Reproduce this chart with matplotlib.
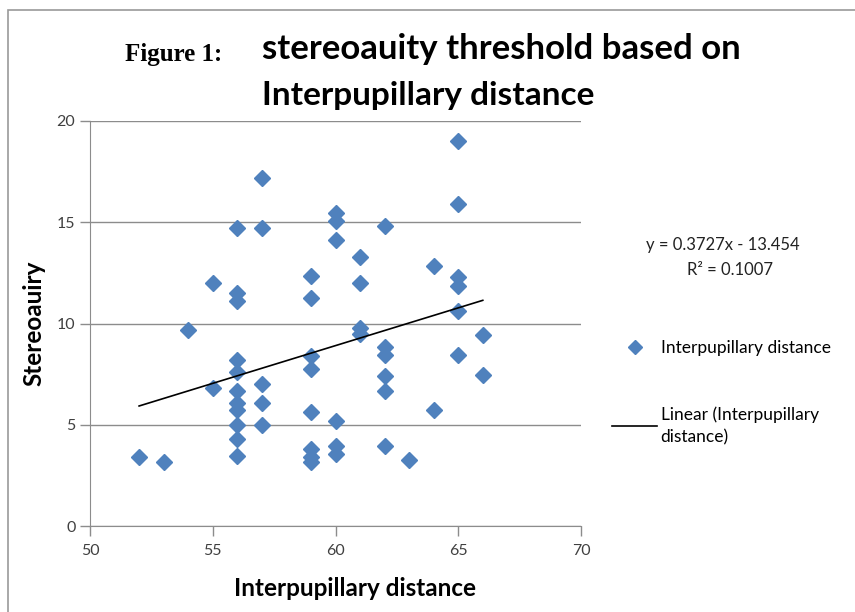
import numpy as np
import matplotlib.pyplot as plt
from matplotlib.patches import Rectangle

# Interpupillary distance (mm) and stereoacuity threshold
ipd = [52, 53, 54, 55, 55,
       56, 56, 56, 56, 56, 56, 56, 56, 56, 56, 56,
       57, 57, 57, 57, 57,
       59, 59, 59, 59, 59, 59, 59, 59,
       60, 60, 60, 60, 60, 60,
       61, 61, 61, 61,
       62, 62, 62, 62, 62, 62,
       63, 64, 64,
       65, 65, 65, 65, 65, 65,
       66, 66]
stereo = [3.4, 3.15, 9.7, 12.0, 6.8,
          14.7, 11.5, 11.1, 8.2, 7.6, 6.65, 6.05, 5.75, 5.0, 4.3, 3.45,
          17.2, 14.7, 7.0, 6.05, 4.97,
          12.35, 11.25, 8.4, 7.75, 5.65, 3.8, 3.4, 3.15,
          15.45, 15.05, 14.1, 5.2, 3.95, 3.55,
          13.3, 12.0, 9.8, 9.5,
          14.8, 8.85, 8.45, 7.42, 6.65, 3.95,
          3.25, 12.85, 5.75,
          19.0, 15.9, 12.3, 11.85, 10.6, 8.42,
          9.45, 7.48]

slope = 0.3727
intercept = -13.454
r2 = 0.1007

xTicks = [50, 55, 60, 65, 70]
yTicks = [0, 5, 10, 15, 20]

plt.rcParams['font.family'] = ['Lato', 'DejaVu Sans']

fig = plt.figure(figsize=(8.55, 6.12), dpi=100)
ax = fig.add_axes([90/855, 1 - 526/612, 491/855, 405/612])

blue = '#4F81BD'
pts, = ax.plot(ipd, stereo, linestyle='none', marker='D', ms=8.5,
               color=blue, markeredgecolor=blue)

xs = np.array([min(ipd), max(ipd)])
trend, = ax.plot(xs, slope * xs + intercept, color='black', lw=1.2)

ax.set_xlim(50, 70)
ax.set_ylim(0, 20)
ax.set_xticks(xTicks)
ax.set_yticks(yTicks)
ax.grid(axis='y', color='#8c8c8c', lw=1)
ax.set_axisbelow(True)
for side in ['top', 'right']:
    ax.spines[side].set_visible(False)
for side in ['left', 'bottom']:
    ax.spines[side].set_color('#8c8c8c')
ax.tick_params(colors='#8c8c8c', labelcolor='#404040', labelsize=11.5, length=7, width=1)
ax.tick_params(axis='x', pad=6)

ax.set_xlabel('Interpupillary distance', fontsize=17.5, fontweight='bold')
ax.xaxis.set_label_coords(0.54, -0.125)
ax.set_ylabel('Stereoauiry', fontsize=17.5, fontweight='bold', labelpad=8)

# title block
fig.text(125/855, 1 - 55/612, 'Figure 1:', family='Liberation Serif', fontweight='bold',
         fontsize=18, va='center', ha='left')
fig.text(262/855, 1 - 49/612, 'stereoauity threshold based on', fontweight='bold',
         fontsize=25, va='center', ha='left')
fig.text(262/855, 1 - 95/612, 'Interpupillary distance', fontweight='bold',
         fontsize=24, va='center', ha='left')

# trendline equation
fig.text(723/855, 1 - 245/612, 'y = %.4fx - %.3f' % (slope, -intercept),
         fontsize=12, ha='center', va='center', color='#222222')
fig.text(730/855, 1 - 270/612, 'R² = %.4f' % r2,
         fontsize=12, ha='center', va='center', color='#222222')

leg = fig.legend([pts, trend], ['Interpupillary distance', 'Linear (Interpupillary\ndistance)'],
                 loc='upper left', bbox_to_anchor=(612/855, 1 - 340/612), frameon=False,
                 fontsize=12.5, handlelength=2.6, labelspacing=2.9, markerscale=0.8,
                 handletextpad=0.2, borderaxespad=0, borderpad=0)
for t in leg.get_texts():
    t.set_linespacing(1.5)

# chart area border
fig.patches.append(Rectangle((8/855, -0.1), 1.2, 1.1 - 10/612, transform=fig.transFigure,
                             fill=False, edgecolor='#9a9a9a', lw=1.2))

fig.savefig('out.png', dpi=100)
